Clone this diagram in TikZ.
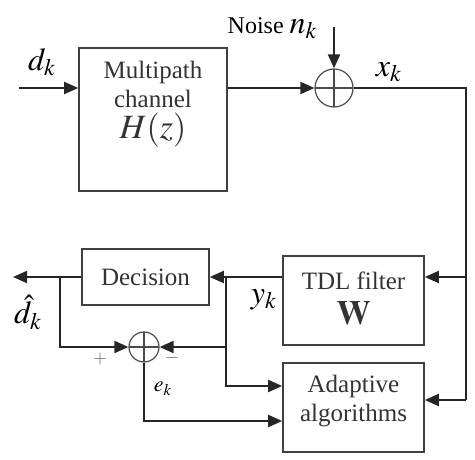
\documentclass[tikz,border=0pt]{standalone}
\usepackage{mathptmx}
\usepackage{fontspec}
\setmainfont{Liberation Serif}
\usetikzlibrary{arrows.meta}

\newlength{\du}
\setlength{\du}{0.5pt}

\tikzset{
  txt/.style={inner sep=0pt, align=center, font=\fontsize{12.5}{14.5}\selectfont, text=black!80},
  blk/.style={txt, draw=black!75, line width=0.8pt, fill=white},
  sum/.style={draw=black!70, line width=0.6pt, circle, inner sep=0pt, minimum size=#1,
    path picture={\draw[black!70, line width=0.6pt]
      (path picture bounding box.north) -- (path picture bounding box.south)
      (path picture bounding box.west) -- (path picture bounding box.east);}},
  wire/.style={line width=1pt, draw=black!85},
  arr/.style={wire, -{Triangle[length=7pt, width=6pt]}},
  lbl/.style={font=\fontsize{16}{18}\selectfont, inner sep=0pt},
  sml/.style={font=\fontsize{9}{10}\selectfont, inner sep=0pt, text=black!60}
}

\begin{document}
\begin{tikzpicture}
\pgftransformyscale{-1.000000}
\useasboundingbox (0\du,0\du) rectangle (475\du,459\du);
% blocks
\node[blk, minimum width=148\du, minimum height=143\du] (ch) at (153\du,119.5\du) {};
\node[txt] (chtext) at (153\du,104\du) {Multipath\\channel\\[1pt]{\fontsize{17}{17}\selectfont$H(z)$}};
\node[sum=38\du] (sum1) at (334\du,88\du) {};
\node[blk, minimum width=127\du, minimum height=56\du] (dec) at (145.5\du,277\du) {Decision};
\node[blk, minimum width=141\du, minimum height=89\du] (tdl) at (353.5\du,300.5\du) {};
\node[txt] (tdltext) at (353.5\du,298\du) {TDL filter\\[3pt]{\fontsize{17}{17}\selectfont$\mathbf{W}$}};
\node[blk, minimum width=141\du, minimum height=89\du] (ad) at (353.5\du,407.5\du) {};
\node[txt] (adtext) at (353.5\du,401\du) {Adaptive\\algorithms};
\node[sum=30\du] (sum2) at (144\du,347\du) {};
% free ends and corners
\coordinate (in) at (19\du,88\du);
\coordinate (ntop) at (334\du,27\du);
\coordinate (rt1) at (466\du,277\du);
\coordinate (rt2) at (466\du,400\du);
\coordinate (out) at (13\du,277\du);
\coordinate (br1) at (226\du,277\du);
\coordinate (br2) at (60\du,277\du);
\coordinate (adin1) at (ad.west |- 0,386\du);
\coordinate (adin2) at (ad.west |- 0,421\du);
% connectors
\draw[arr] (in) -- (in -| ch.west);
\draw[arr] (sum1.west -| ch.east) -- (sum1.west);
\draw[arr] (ntop) -- (sum1.north);
\draw[wire] (sum1.east) -| (rt2);
\draw[arr] (rt1) -- (rt1 -| tdl.east);
\draw[arr] (rt2) -- (rt2 -| ad.east);
\draw[arr] (dec.east -| tdl.west) -- (dec.east);
\draw[arr] (br1) |- (sum2.east);
\draw[arr] (br1) |- (adin1);
\draw[arr] (dec.west) -- (out);
\draw[arr] (br2) |- (sum2.west);
\draw[arr] (sum2.south) |- (adin2);
% labels
\node[lbl] (dk) at (42\du,62\du) {$d_k$};
\node[lbl, anchor=east] (noise) at (318\du,28\du) {{\fontsize{12}{12}\selectfont Noise }$n_k$};
\node[lbl] (xk) at (389\du,72\du) {$x_k$};
\node[lbl] (yk) at (264\du,300\du) {$y_k$};
\node[lbl] (dhat) at (28\du,312\du) {$\hat{d}_k$};
\node[sml] (plus) at (100\du,359\du) {$+$};
\node[sml] (minus) at (172\du,358\du) {$-$};
\node[sml, text=black, font=\fontsize{11}{12}\selectfont] (ek) at (163\du,389\du) {$e_k$};
\end{tikzpicture}
\end{document}
